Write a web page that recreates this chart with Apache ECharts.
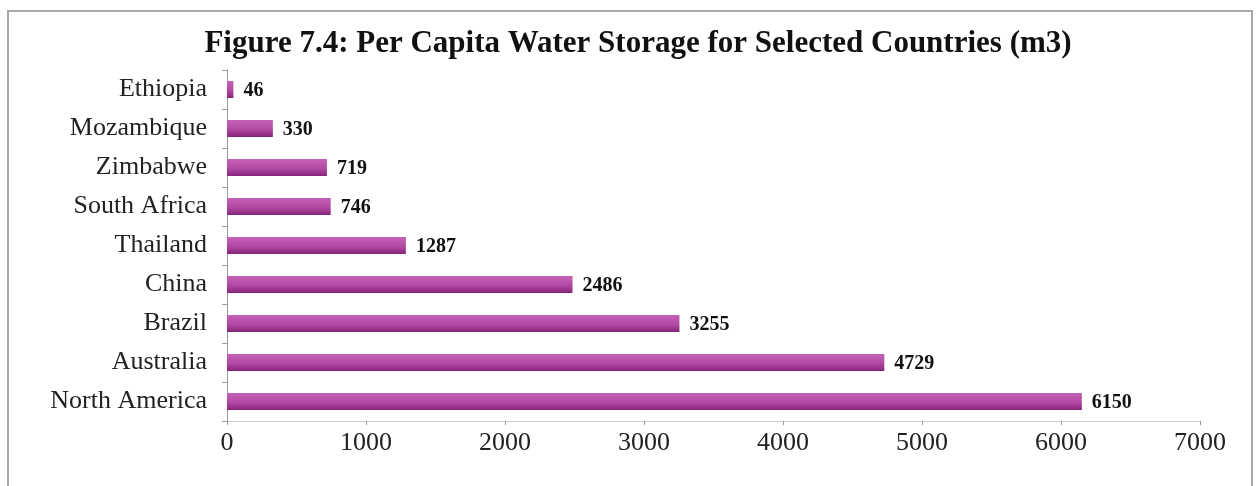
<!DOCTYPE html>
<html>
<head>
<meta charset="utf-8">
<script src="https://cdn.jsdelivr.net/npm/echarts@6/dist/echarts.min.js"></script>
<style>
  html, body { margin: 0; padding: 0; background: #fff; }
  #chart { width: 1256px; height: 486px; }
</style>
</head>
<body>
<div id="chart"></div>
<script>
// Per capita water storage (m3), listed bottom-to-top on the category axis
const countries = ['North America', 'Australia', 'Brazil', 'China', 'Thailand', 'South Africa', 'Zimbabwe', 'Mozambique', 'Ethiopia'];
const storage = [6150, 4729, 3255, 2486, 1287, 746, 719, 330, 46];
const xTicks = [0, 1000, 2000, 3000, 4000, 5000, 6000, 7000];

const serif = '"Liberation Serif", "DejaVu Serif", serif';
const chart = echarts.init(document.getElementById('chart'));

chart.setOption({
  animation: false,
  backgroundColor: '#ffffff',
  graphic: [{
    type: 'rect',
    shape: { x: 8, y: 11, width: 1244, height: 500 },
    style: { fill: 'none', stroke: '#a8a8a8', lineWidth: 2 },
    silent: true
  }],
  title: {
    text: 'Figure 7.4: Per Capita Water Storage for Selected Countries (m3)',
    left: 633,
    textAlign: 'center',
    top: 23,
    textStyle: { fontFamily: serif, fontWeight: 'bold', fontSize: 31, color: '#111' }
  },
  grid: { left: 227, right: 56, top: 70, bottom: 65 },
  xAxis: {
    type: 'value',
    min: xTicks[0],
    max: xTicks[xTicks.length - 1],
    interval: 1000,
    axisLine: { show: true, lineStyle: { color: '#cfcfcf', width: 1 } },
    axisTick: { show: true, length: 4, lineStyle: { color: '#999' } },
    splitLine: { show: false },
    axisLabel: {
      fontFamily: serif, fontSize: 26, color: '#222', margin: 9,
      formatter: v => String(v)
    }
  },
  yAxis: {
    type: 'category',
    data: countries,
    axisLine: { show: true, lineStyle: { color: '#999', width: 1 } },
    axisTick: { show: true, length: 5, alignWithLabel: false, lineStyle: { color: '#999' } },
    axisLabel: { fontFamily: serif, fontSize: 26, color: '#222', margin: 20 }
  },
  series: [{
    type: 'bar',
    data: storage,
    barWidth: 17,
    itemStyle: {
      color: new echarts.graphic.LinearGradient(0, 0, 0, 1, [
        { offset: 0, color: '#c462b6' },
        { offset: 0.55, color: '#b24aa3' },
        { offset: 1, color: '#862479' }
      ])
    },
    label: {
      show: true,
      position: 'right',
      distance: 10,
      offset: [0, 1],
      fontFamily: serif,
      fontWeight: 'bold',
      fontSize: 20,
      color: '#111'
    }
  }]
});
</script>
</body>
</html>
